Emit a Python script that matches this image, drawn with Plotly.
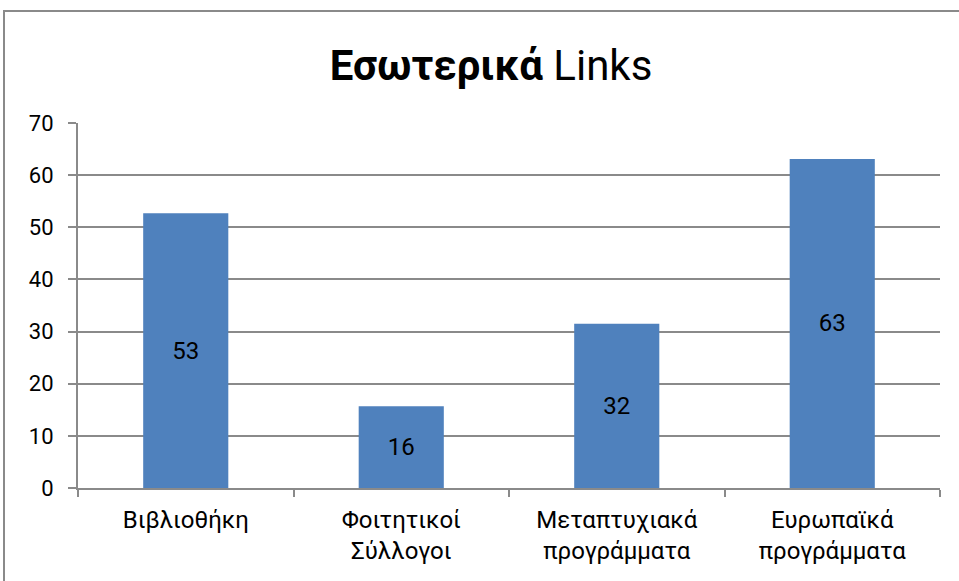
import plotly.graph_objects as go

categories = ['Βιβλιοθήκη', 'Φοιτητικοί<br>Σύλλογοι', 'Μεταπτυχιακά<br>προγράμματα', 'Ευρωπαϊκά<br>προγράμματα']
values = [52.7, 15.7, 31.5, 63.1]
labels = ['53', '16', '32', '63']
y_ticks = [0, 10, 20, 30, 40, 50, 60, 70]

W, H = 959, 581
L, R, T, B = 78, 19, 123, 93
pw, ph = W - L - R, H - T - B

grey = '#8a8a8a'
font = 'Roboto'

fig = go.Figure(
    go.Bar(
        x = categories,
        y = values,
        text = labels,
        textposition = 'inside',
        insidetextanchor = 'middle',
        textfont = {'family': font, 'size': 24, 'color': 'black'},
        marker = {'color': '#4F81BD', 'line': {'width': 0}},
        width = 0.395,
        hoverinfo = 'skip'
    )
)

fig.update_layout(
    width = W,
    height = H,
    margin = {'l': L, 'r': R, 't': T, 'b': B, 'pad': 0},
    paper_bgcolor = 'white',
    plot_bgcolor = 'white',
    showlegend = False,
    title = {
        'text': '<b>Εσωτερικά</b> Links',
        'font': {'family': font, 'size': 42, 'color': 'black'},
        'xref': 'paper',
        'x': (491 - L) / pw,
        'xanchor': 'center',
        'yref': 'container',
        'y': 1 - 65 / H,
        'yanchor': 'middle'
    },
    xaxis = {
        'showline': True,
        'linecolor': grey,
        'linewidth': 2,
        'ticks': 'outside',
        'tickson': 'boundaries',
        'ticklen': 7,
        'tickwidth': 1.5,
        'tickcolor': grey,
        'showgrid': False,
        'tickfont': {'family': font, 'size': 24, 'color': 'black'},
        'ticklabelstandoff': 9,
        'range': [-0.5, 3.5]
    },
    yaxis = {
        'range': [0, 70],
        'tickvals': y_ticks,
        'showline': True,
        'linecolor': grey,
        'linewidth': 2,
        'ticks': 'outside',
        'ticklen': 8,
        'tickwidth': 2,
        'tickcolor': grey,
        'showgrid': True,
        'gridcolor': grey,
        'gridwidth': 2,
        'zeroline': False,
        'tickfont': {'family': font, 'size': 22, 'color': 'black'},
        'ticklabelstandoff': 10
    },
    shapes = [{
        'type': 'rect',
        'xref': 'paper', 'yref': 'paper',
        'x0': (4 - L) / pw, 'x1': (W + 10 - L) / pw,
        'y0': -(B + 10) / ph, 'y1': 1 + (T - 11) / ph,
        'line': {'color': grey, 'width': 2},
        'layer': 'below'
    }]
)

fig.write_html(
    "out.html",
    config = {'displayModeBar': False},
    post_script = "document.body.style.margin = '0';"
)
